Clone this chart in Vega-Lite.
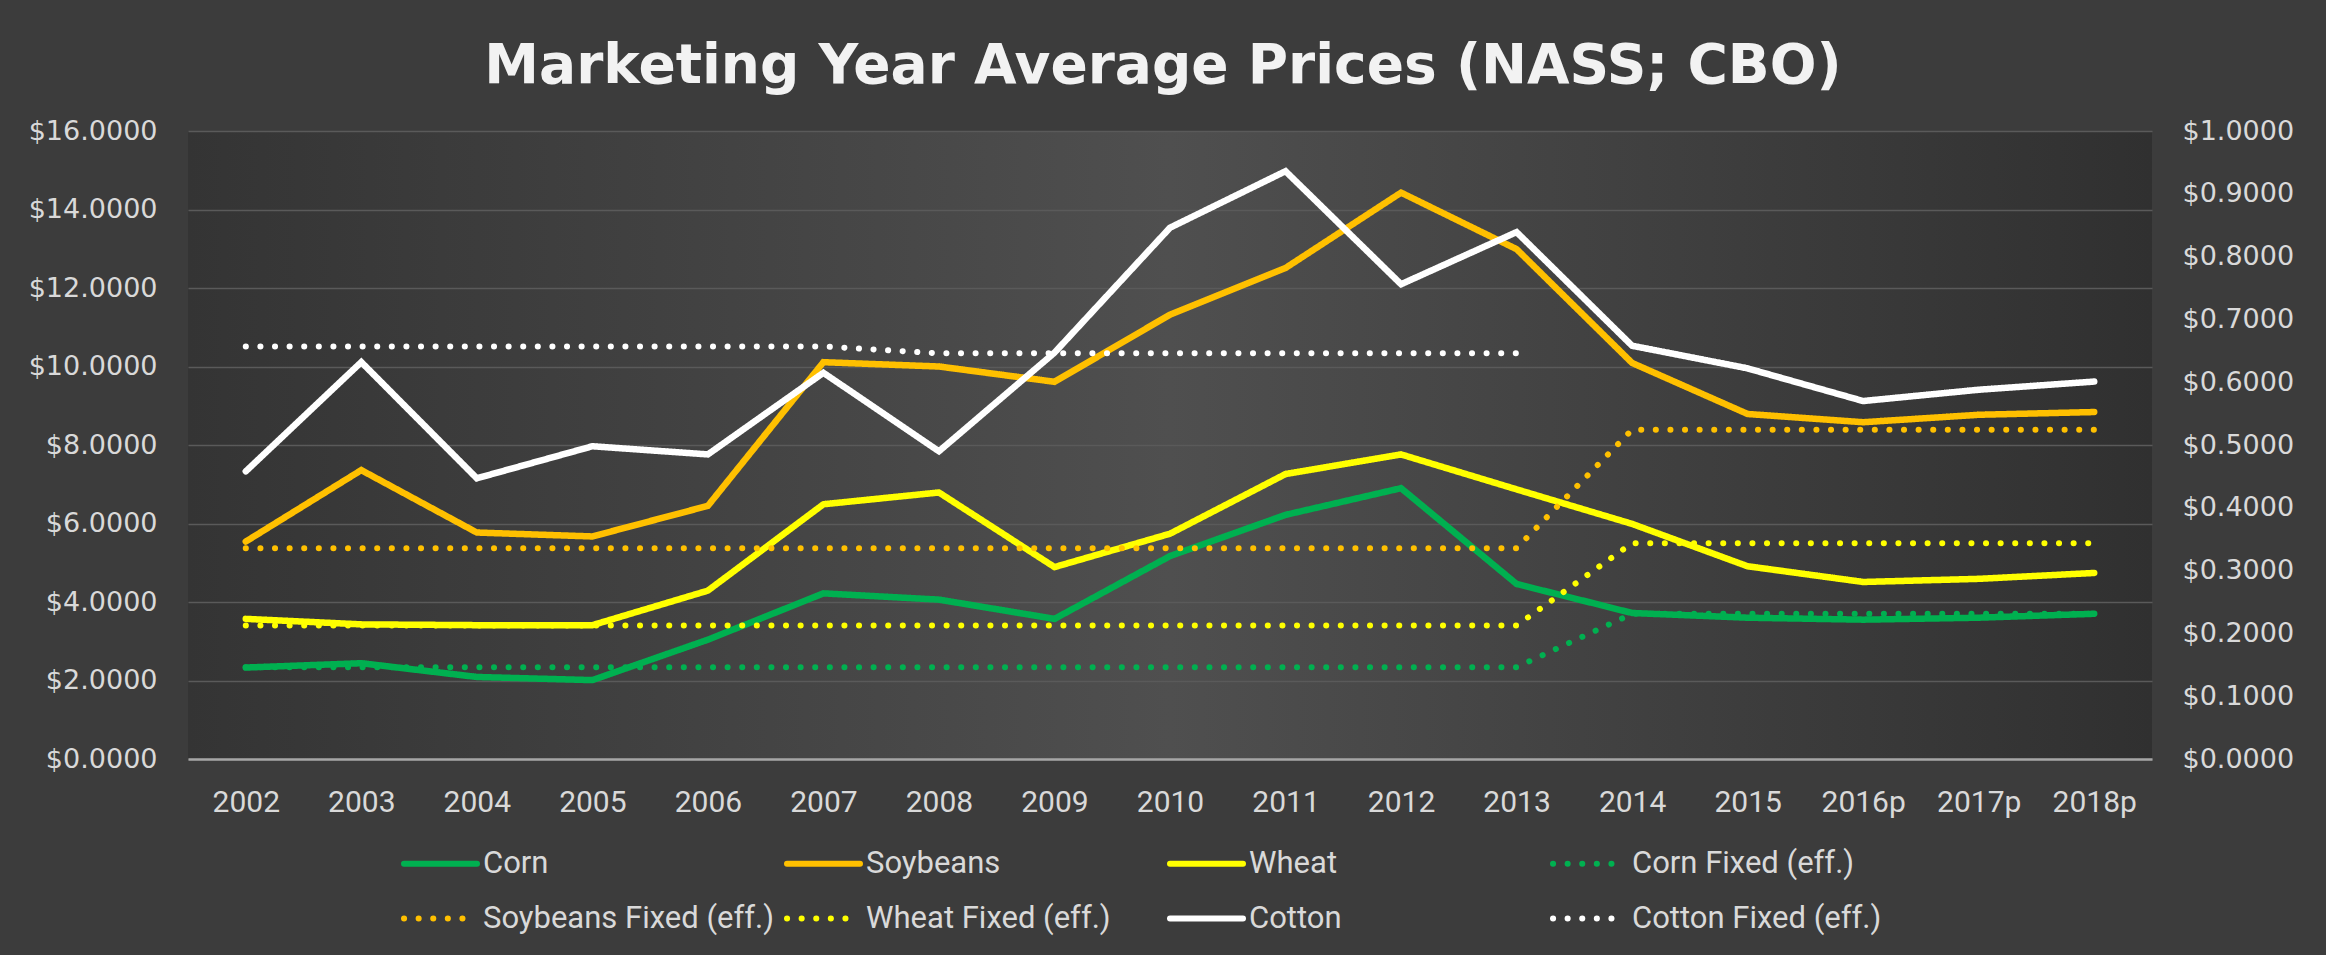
{
  "$schema": "https://vega.github.io/schema/vega-lite/v6.json",
  "width": 1964,
  "height": 628,
  "autosize": {"type": "none"},
  "padding": {"left": 188, "top": 131, "right": 174, "bottom": 196},
  "background": "#3c3c3c",
  "title": {
    "text": "Marketing Year Average Prices (NASS; CBO)",
    "font": "DejaVu Sans",
    "fontWeight": "bold",
    "fontSize": 55,
    "color": "#f2f2f2",
    "offset": 22,
    "dx": -7,
    "anchor": "middle"
  },
  "data": {
    "values": [
      {"year": "2002", "series": "Corn", "price": 2.33},
      {"year": "2003", "series": "Corn", "price": 2.44},
      {"year": "2004", "series": "Corn", "price": 2.09},
      {"year": "2005", "series": "Corn", "price": 2.01},
      {"year": "2006", "series": "Corn", "price": 3.04},
      {"year": "2007", "series": "Corn", "price": 4.22},
      {"year": "2008", "series": "Corn", "price": 4.06},
      {"year": "2009", "series": "Corn", "price": 3.57},
      {"year": "2010", "series": "Corn", "price": 5.17},
      {"year": "2011", "series": "Corn", "price": 6.22},
      {"year": "2012", "series": "Corn", "price": 6.9},
      {"year": "2013", "series": "Corn", "price": 4.46},
      {"year": "2014", "series": "Corn", "price": 3.72},
      {"year": "2015", "series": "Corn", "price": 3.6},
      {"year": "2016p", "series": "Corn", "price": 3.55},
      {"year": "2017p", "series": "Corn", "price": 3.6},
      {"year": "2018p", "series": "Corn", "price": 3.7},

      {"year": "2002", "series": "Soybeans", "price": 5.54},
      {"year": "2003", "series": "Soybeans", "price": 7.36},
      {"year": "2004", "series": "Soybeans", "price": 5.77},
      {"year": "2005", "series": "Soybeans", "price": 5.67},
      {"year": "2006", "series": "Soybeans", "price": 6.45},
      {"year": "2007", "series": "Soybeans", "price": 10.11},
      {"year": "2008", "series": "Soybeans", "price": 10.0},
      {"year": "2009", "series": "Soybeans", "price": 9.61},
      {"year": "2010", "series": "Soybeans", "price": 11.32},
      {"year": "2011", "series": "Soybeans", "price": 12.51},
      {"year": "2012", "series": "Soybeans", "price": 14.43},
      {"year": "2013", "series": "Soybeans", "price": 12.99},
      {"year": "2014", "series": "Soybeans", "price": 10.09},
      {"year": "2015", "series": "Soybeans", "price": 8.79},
      {"year": "2016p", "series": "Soybeans", "price": 8.58},
      {"year": "2017p", "series": "Soybeans", "price": 8.77},
      {"year": "2018p", "series": "Soybeans", "price": 8.84},

      {"year": "2002", "series": "Wheat", "price": 3.57},
      {"year": "2003", "series": "Wheat", "price": 3.43},
      {"year": "2004", "series": "Wheat", "price": 3.41},
      {"year": "2005", "series": "Wheat", "price": 3.41},
      {"year": "2006", "series": "Wheat", "price": 4.29},
      {"year": "2007", "series": "Wheat", "price": 6.49},
      {"year": "2008", "series": "Wheat", "price": 6.79},
      {"year": "2009", "series": "Wheat", "price": 4.89},
      {"year": "2010", "series": "Wheat", "price": 5.74},
      {"year": "2011", "series": "Wheat", "price": 7.26},
      {"year": "2012", "series": "Wheat", "price": 7.76},
      {"year": "2013", "series": "Wheat", "price": 6.87},
      {"year": "2014", "series": "Wheat", "price": 5.99},
      {"year": "2015", "series": "Wheat", "price": 4.91},
      {"year": "2016p", "series": "Wheat", "price": 4.51},
      {"year": "2017p", "series": "Wheat", "price": 4.59},
      {"year": "2018p", "series": "Wheat", "price": 4.74},

      {"year": "2002", "series": "Corn Fixed (eff.)", "price": 2.34},
      {"year": "2003", "series": "Corn Fixed (eff.)", "price": 2.34},
      {"year": "2004", "series": "Corn Fixed (eff.)", "price": 2.34},
      {"year": "2005", "series": "Corn Fixed (eff.)", "price": 2.34},
      {"year": "2006", "series": "Corn Fixed (eff.)", "price": 2.34},
      {"year": "2007", "series": "Corn Fixed (eff.)", "price": 2.34},
      {"year": "2008", "series": "Corn Fixed (eff.)", "price": 2.34},
      {"year": "2009", "series": "Corn Fixed (eff.)", "price": 2.34},
      {"year": "2010", "series": "Corn Fixed (eff.)", "price": 2.34},
      {"year": "2011", "series": "Corn Fixed (eff.)", "price": 2.34},
      {"year": "2012", "series": "Corn Fixed (eff.)", "price": 2.34},
      {"year": "2013", "series": "Corn Fixed (eff.)", "price": 2.34},
      {"year": "2014", "series": "Corn Fixed (eff.)", "price": 3.7},
      {"year": "2015", "series": "Corn Fixed (eff.)", "price": 3.7},
      {"year": "2016p", "series": "Corn Fixed (eff.)", "price": 3.7},
      {"year": "2017p", "series": "Corn Fixed (eff.)", "price": 3.7},
      {"year": "2018p", "series": "Corn Fixed (eff.)", "price": 3.7},

      {"year": "2002", "series": "Soybeans Fixed (eff.)", "price": 5.37},
      {"year": "2003", "series": "Soybeans Fixed (eff.)", "price": 5.37},
      {"year": "2004", "series": "Soybeans Fixed (eff.)", "price": 5.37},
      {"year": "2005", "series": "Soybeans Fixed (eff.)", "price": 5.37},
      {"year": "2006", "series": "Soybeans Fixed (eff.)", "price": 5.37},
      {"year": "2007", "series": "Soybeans Fixed (eff.)", "price": 5.37},
      {"year": "2008", "series": "Soybeans Fixed (eff.)", "price": 5.37},
      {"year": "2009", "series": "Soybeans Fixed (eff.)", "price": 5.37},
      {"year": "2010", "series": "Soybeans Fixed (eff.)", "price": 5.37},
      {"year": "2011", "series": "Soybeans Fixed (eff.)", "price": 5.37},
      {"year": "2012", "series": "Soybeans Fixed (eff.)", "price": 5.37},
      {"year": "2013", "series": "Soybeans Fixed (eff.)", "price": 5.37},
      {"year": "2014", "series": "Soybeans Fixed (eff.)", "price": 8.39},
      {"year": "2015", "series": "Soybeans Fixed (eff.)", "price": 8.39},
      {"year": "2016p", "series": "Soybeans Fixed (eff.)", "price": 8.39},
      {"year": "2017p", "series": "Soybeans Fixed (eff.)", "price": 8.39},
      {"year": "2018p", "series": "Soybeans Fixed (eff.)", "price": 8.39},

      {"year": "2002", "series": "Wheat Fixed (eff.)", "price": 3.4},
      {"year": "2003", "series": "Wheat Fixed (eff.)", "price": 3.4},
      {"year": "2004", "series": "Wheat Fixed (eff.)", "price": 3.4},
      {"year": "2005", "series": "Wheat Fixed (eff.)", "price": 3.4},
      {"year": "2006", "series": "Wheat Fixed (eff.)", "price": 3.4},
      {"year": "2007", "series": "Wheat Fixed (eff.)", "price": 3.4},
      {"year": "2008", "series": "Wheat Fixed (eff.)", "price": 3.4},
      {"year": "2009", "series": "Wheat Fixed (eff.)", "price": 3.4},
      {"year": "2010", "series": "Wheat Fixed (eff.)", "price": 3.4},
      {"year": "2011", "series": "Wheat Fixed (eff.)", "price": 3.4},
      {"year": "2012", "series": "Wheat Fixed (eff.)", "price": 3.4},
      {"year": "2013", "series": "Wheat Fixed (eff.)", "price": 3.4},
      {"year": "2014", "series": "Wheat Fixed (eff.)", "price": 5.5},
      {"year": "2015", "series": "Wheat Fixed (eff.)", "price": 5.5},
      {"year": "2016p", "series": "Wheat Fixed (eff.)", "price": 5.5},
      {"year": "2017p", "series": "Wheat Fixed (eff.)", "price": 5.5},
      {"year": "2018p", "series": "Wheat Fixed (eff.)", "price": 5.5},

      {"year": "2002", "series": "Cotton", "price": 0.458},
      {"year": "2003", "series": "Cotton", "price": 0.632},
      {"year": "2004", "series": "Cotton", "price": 0.447},
      {"year": "2005", "series": "Cotton", "price": 0.498},
      {"year": "2006", "series": "Cotton", "price": 0.485},
      {"year": "2007", "series": "Cotton", "price": 0.615},
      {"year": "2008", "series": "Cotton", "price": 0.49},
      {"year": "2009", "series": "Cotton", "price": 0.647},
      {"year": "2010", "series": "Cotton", "price": 0.846},
      {"year": "2011", "series": "Cotton", "price": 0.936},
      {"year": "2012", "series": "Cotton", "price": 0.756},
      {"year": "2013", "series": "Cotton", "price": 0.839},
      {"year": "2014", "series": "Cotton", "price": 0.658},
      {"year": "2015", "series": "Cotton", "price": 0.622},
      {"year": "2016p", "series": "Cotton", "price": 0.57},
      {"year": "2017p", "series": "Cotton", "price": 0.588},
      {"year": "2018p", "series": "Cotton", "price": 0.601},

      {"year": "2002", "series": "Cotton Fixed (eff.)", "price": 0.657},
      {"year": "2003", "series": "Cotton Fixed (eff.)", "price": 0.657},
      {"year": "2004", "series": "Cotton Fixed (eff.)", "price": 0.657},
      {"year": "2005", "series": "Cotton Fixed (eff.)", "price": 0.657},
      {"year": "2006", "series": "Cotton Fixed (eff.)", "price": 0.657},
      {"year": "2007", "series": "Cotton Fixed (eff.)", "price": 0.657},
      {"year": "2008", "series": "Cotton Fixed (eff.)", "price": 0.646},
      {"year": "2009", "series": "Cotton Fixed (eff.)", "price": 0.646},
      {"year": "2010", "series": "Cotton Fixed (eff.)", "price": 0.646},
      {"year": "2011", "series": "Cotton Fixed (eff.)", "price": 0.646},
      {"year": "2012", "series": "Cotton Fixed (eff.)", "price": 0.646},
      {"year": "2013", "series": "Cotton Fixed (eff.)", "price": 0.646}
    ]
  },
  "encoding": {
    "x": {
      "field": "year",
      "type": "ordinal",
      "sort": null,
      "scale": {"type": "point", "padding": 0.5},
      "axis": {
        "title": null,
        "labelAngle": 0,
        "labelFont": "Roboto",
        "labelFontSize": 30,
        "labelColor": "#d9d9d9",
        "labelPadding": 28,
        "ticks": false,
        "grid": false,
        "domainColor": "#a6a6a6",
        "domainWidth": 2.5,
        "zindex": 1
      }
    },
    "color": {
      "field": "series",
      "type": "nominal",
      "scale": {
        "domain": ["Corn", "Soybeans", "Wheat", "Corn Fixed (eff.)", "Soybeans Fixed (eff.)", "Wheat Fixed (eff.)", "Cotton", "Cotton Fixed (eff.)"],
        "range": ["#00b050", "#ffc000", "#ffff00", "#00b050", "#ffc000", "#ffff00", "#ffffff", "#ffffff"]
      },
      "legend": {
        "title": null,
        "encode": {"symbols": {"update": {"strokeCap": {"value": "round"}}}}
      }
    },
    "strokeDash": {
      "field": "series",
      "type": "nominal",
      "scale": {
        "domain": ["Corn", "Soybeans", "Wheat", "Corn Fixed (eff.)", "Soybeans Fixed (eff.)", "Wheat Fixed (eff.)", "Cotton", "Cotton Fixed (eff.)"],
        "range": [[1, 0], [1, 0], [1, 0], [0.1, 14.5], [0.1, 14.5], [0.1, 14.5], [1, 0], [0.1, 14.5]]
      },
      "legend": {
        "title": null,
        "encode": {"symbols": {"update": {"strokeCap": {"value": "round"}}}}
      }
    }
  },
  "layer": [
    {
      "transform": [{"filter": {"field": "series", "oneOf": ["Corn", "Soybeans", "Wheat", "Corn Fixed (eff.)", "Soybeans Fixed (eff.)", "Wheat Fixed (eff.)"]}}],
      "encoding": {
        "y": {
          "field": "price",
          "type": "quantitative",
          "scale": {"domain": [0, 16], "nice": false},
          "axis": {
            "title": null,
            "values": [0, 2, 4, 6, 8, 10, 12, 14, 16],
            "format": "$.4f",
            "grid": true,
            "gridColor": "#5a5a5a",
            "gridWidth": 1.3,
            "domain": false,
            "ticks": false,
            "labelPadding": 31,
            "labelFont": "DejaVu Sans",
            "labelFontSize": 27,
            "labelColor": "#d9d9d9"
          }
        }
      },
      "layer": [
        {
          "transform": [{"filter": {"field": "series", "oneOf": ["Corn", "Soybeans", "Wheat"]}}],
          "mark": {"type": "line", "strokeWidth": 6.5, "strokeCap": "round"}
        },
        {
          "transform": [{"filter": {"field": "series", "oneOf": ["Corn Fixed (eff.)", "Soybeans Fixed (eff.)", "Wheat Fixed (eff.)"]}}],
          "mark": {"type": "line", "strokeWidth": 6, "strokeCap": "round"}
        }
      ]
    },
    {
      "transform": [{"filter": {"field": "series", "oneOf": ["Cotton", "Cotton Fixed (eff.)"]}}],
      "encoding": {
        "y": {
          "field": "price",
          "type": "quantitative",
          "scale": {"domain": [0, 1], "nice": false},
          "axis": {
            "title": null,
            "orient": "right",
            "values": [0, 0.1, 0.2, 0.3, 0.4, 0.5, 0.6, 0.7, 0.8, 0.9, 1],
            "format": "$.4f",
            "grid": false,
            "domain": false,
            "ticks": false,
            "labelPadding": 30,
            "labelFont": "DejaVu Sans",
            "labelFontSize": 27,
            "labelColor": "#d9d9d9"
          }
        }
      },
      "layer": [
        {
          "transform": [{"filter": {"field": "series", "equal": "Cotton"}}],
          "mark": {"type": "line", "strokeWidth": 6.5, "strokeCap": "round"}
        },
        {
          "transform": [{"filter": {"field": "series", "equal": "Cotton Fixed (eff.)"}}],
          "mark": {"type": "line", "strokeWidth": 6, "strokeCap": "round"}
        }
      ]
    }
  ],
  "resolve": {"scale": {"y": "independent"}},
  "config": {
    "view": {
      "stroke": null,
      "fill": {
        "gradient": "linear",
        "x1": 0, "y1": 0, "x2": 1, "y2": 0,
        "stops": [
          {"offset": 0, "color": "#343434"},
          {"offset": 0.5, "color": "#4f4f4f"},
          {"offset": 1, "color": "#303030"}
        ]
      }
    },
    "legend": {
      "orient": "none",
      "direction": "horizontal",
      "legendX": 213,
      "legendY": 693,
      "columns": 4,
      "gridAlign": "all",
      "columnPadding": 1,
      "rowPadding": -1,
      "padding": 0,
      "symbolType": "stroke",
      "symbolSize": 5329,
      "symbolStrokeWidth": 6,
      "labelFont": "Roboto",
      "labelFontSize": 31,
      "labelColor": "#d9d9d9",
      "labelOffset": 3,
      "labelLimit": 0
    }
  }
}
